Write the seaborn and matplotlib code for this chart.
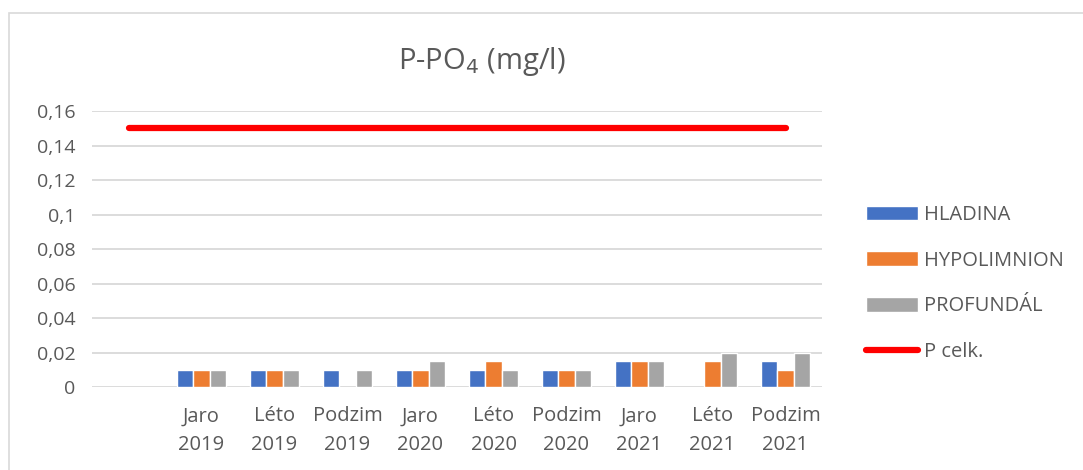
import matplotlib
matplotlib.use("Agg")
import matplotlib.pyplot as plt
import seaborn as sns
import pandas as pd
import numpy as np
from matplotlib.patches import Rectangle, Patch
from matplotlib.lines import Line2D

categories = ["", "Jaro\n2019", "Léto\n2019", "Podzim\n2019", "Jaro\n2020", "Léto\n2020",
              "Podzim\n2020", "Jaro\n2021", "Léto\n2021", "Podzim\n2021"]
hladina = [np.nan, 0.01, 0.01, 0.01, 0.01, 0.01, 0.01, 0.015, np.nan, 0.015]
hypolimnion = [np.nan, 0.01, 0.01, np.nan, 0.01, 0.015, 0.01, 0.015, 0.015, 0.01]
profundal = [np.nan, 0.01, 0.01, 0.01, 0.015, 0.01, 0.01, 0.015, 0.02, 0.02]
p_celk = [0.15] * 10
series_names = ["HLADINA", "HYPOLIMNION", "PROFUNDÁL"]
line_name = "P celk."
yticks = [0, 0.02, 0.04, 0.06, 0.08, 0.1, 0.12, 0.14, 0.16]
ytick_labels = ["0", "0,02", "0,04", "0,06", "0,08", "0,1", "0,12", "0,14", "0,16"]

colors = ["#4472C4", "#ED7D31", "#A5A5A5"]
red = "#FF0000"
txt = "#595959"

sns.set_style("white")
plt.rcParams['font.family'] = ['Open Sans', 'DejaVu Sans']

df = pd.DataFrame({
    "cat": categories * 3,
    "series": sum([[s] * len(categories) for s in series_names], []),
    "value": hladina + hypolimnion + profundal,
})

W, H = 1083, 470
fig = plt.figure(figsize=(W / 100, H / 100), dpi=100)
ax = fig.add_axes([92 / W, 1 - 387 / H, (822 - 92) / W, (387 - 111) / H])

sns.barplot(data=df, x="cat", y="value", hue="series", order=categories,
            hue_order=series_names, palette=colors, width=0.67, ax=ax,
            legend=False, saturation=1, errorbar=None)
ax.plot(range(len(categories)), p_celk, color=red, lw=4.5, solid_capstyle="round")

ax.set_xlim(-0.5, len(categories) - 0.5)
ax.set_ylim(0, 0.16)
ax.set_yticks(yticks)
ax.set_yticklabels(ytick_labels)
ax.yaxis.grid(True, color="#D9D9D9", lw=1.3)
ax.set_axisbelow(True)
for s in ax.spines.values():
    s.set_visible(False)
ax.tick_params(axis="y", length=0, labelsize=14, colors=txt, pad=12)
ax.tick_params(axis="x", length=0, labelsize=14.5, colors=txt, pad=14)
ax.set_xlabel("")
ax.set_ylabel("")
for lab in ax.get_xticklabels():
    lab.set_linespacing(1.55)

handles = [Patch(facecolor=c) for c in colors] + [Line2D([0], [0], color=red, lw=4.5, solid_capstyle="round")]
leg = fig.legend(handles, series_names + [line_name], loc="upper left",
                 bbox_to_anchor=(848 / W, 1 - 187 / H), frameon=False, fontsize=14.5,
                 handlelength=2.6, handleheight=0.75, labelspacing=1.27,
                 handletextpad=0.25, labelcolor=txt)

fig.text(482 / W, 1 - 62 / H, r"P-PO$_4$ (mg/l)", ha="center", va="center",
         fontsize=21, color=txt)

fig.add_artist(Rectangle((9 / W, -0.1), 1.2, 1.1 - 12.5 / H, transform=fig.transFigure,
                         fill=False, edgecolor="#D9D9D9", lw=1.2))

fig.savefig("out.png", dpi=100)
